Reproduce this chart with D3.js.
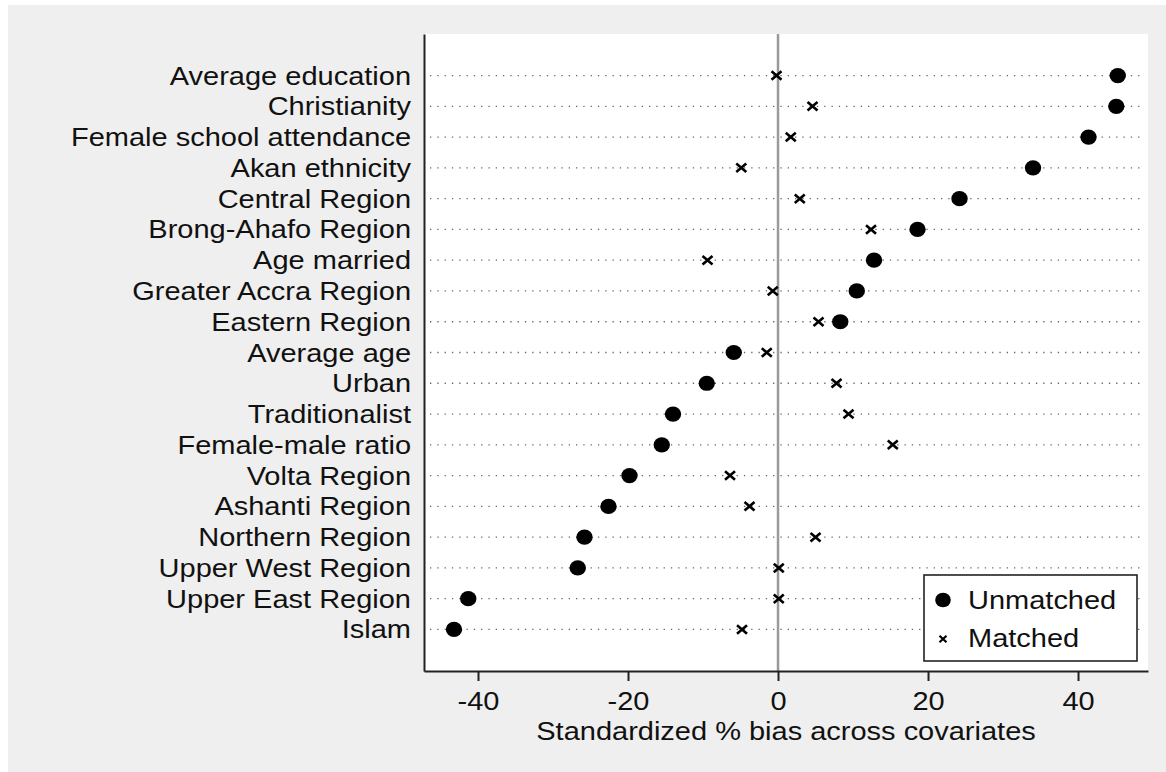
<!DOCTYPE html>
<html>
<head>
<meta charset="utf-8">
<script src="https://cdn.jsdelivr.net/npm/d3@7"></script>
<style>
  html, body { margin: 0; padding: 0; background: #ffffff; }
  svg { display: block; }
  text { font-family: "Liberation Sans", Arial, sans-serif; fill: #111; }
</style>
</head>
<body>
<svg id="chart" width="1166" height="772"></svg>
<script>
const categories = [
  "Average education", "Christianity", "Female school attendance", "Akan ethnicity",
  "Central Region", "Brong-Ahafo Region", "Age married", "Greater Accra Region",
  "Eastern Region", "Average age", "Urban", "Traditionalist", "Female-male ratio",
  "Volta Region", "Ashanti Region", "Northern Region", "Upper West Region",
  "Upper East Region", "Islam"
];
const unmatched = [45.3, 45.1, 41.4, 34.0, 24.2, 18.6, 12.8, 10.5, 8.3, -5.9, -9.5,
  -14.0, -15.5, -19.8, -22.6, -25.8, -26.7, -41.3, -43.2];
const matched = [-0.2, 4.6, 1.7, -4.9, 2.9, 12.4, -9.4, -0.7, 5.4, -1.5, 7.8,
  9.4, 15.3, -6.4, -3.8, 5.0, 0.1, 0.1, -4.8];
const xTicks = [-40, -20, 0, 20, 40];
const xTitle = "Standardized % bias across covariates";
const legendLabels = ["Unmatched", "Matched"];

const svg = d3.select("#chart");
const SX = 1.16; // horizontal stretch of text, as in the exported original

const plot = { left: 424, right: 1148, top: 34, bottom: 671 };

// background
svg.append("rect").attr("x", 8).attr("y", 5).attr("width", 1158).attr("height", 767)
  .attr("fill", "#efefef");
svg.append("rect").attr("x", plot.left).attr("y", plot.top)
  .attr("width", plot.right - plot.left).attr("height", plot.bottom - plot.top)
  .attr("fill", "#ffffff");

const x = d3.scaleLinear().domain([-47.2, 49.33]).range([plot.left, plot.right]);
const y = d3.scalePoint().domain(categories).range([plot.top, plot.bottom]).padding(1.35);

// dotted row lines
svg.append("g").selectAll("line").data(categories).join("line")
  .attr("x1", plot.left + 6).attr("x2", plot.right - 5)
  .attr("y1", d => y(d)).attr("y2", d => y(d))
  .attr("stroke", "#666").attr("stroke-width", 1.3)
  .attr("stroke-dasharray", "1.3,6");

// zero line
svg.append("line").attr("x1", x(0)).attr("x2", x(0))
  .attr("y1", plot.top).attr("y2", plot.bottom)
  .attr("stroke", "#9a9a9a").attr("stroke-width", 2.5);

// x axis
const xAxis = svg.append("g").attr("transform", `translate(0,${plot.bottom})`)
  .call(d3.axisBottom(x).tickValues(xTicks).tickSizeOuter(0).tickSizeInner(10).tickPadding(11)
    .tickFormat(d => d));
xAxis.select(".domain").attr("stroke", "#222").attr("stroke-width", 2);
xAxis.selectAll(".tick line").attr("stroke", "#222").attr("stroke-width", 2);
xAxis.selectAll(".tick text").attr("font-size", 25).attr("fill", "#111")
  .style("font-family", '"Liberation Sans", Arial, sans-serif')
  .attr("transform", `scale(${SX},1)`);

// y axis
const yAxis = svg.append("g").attr("transform", `translate(${plot.left},0)`)
  .call(d3.axisLeft(y).tickSizeOuter(0).tickSizeInner(0).tickPadding(13));
yAxis.select(".domain").attr("stroke", "#222").attr("stroke-width", 2);
yAxis.selectAll(".tick text").attr("font-size", 25).attr("fill", "#111")
  .style("font-family", '"Liberation Sans", Arial, sans-serif')
  .attr("dy", "0.34em")
  .attr("transform", function() { return `scale(${SX},1)`; })
  .attr("x", -13 / SX);

// x title
svg.append("text")
  .attr("transform", `translate(${(plot.left + plot.right) / 2},740) scale(${SX},1)`)
  .attr("text-anchor", "middle").attr("font-size", 25).text(xTitle);

// markers
const crossPath = (cx, cy, w, h) =>
  `M${cx - w / 2},${cy - h / 2}L${cx + w / 2},${cy + h / 2}M${cx - w / 2},${cy + h / 2}L${cx + w / 2},${cy - h / 2}`;

svg.append("g").selectAll("path").data(categories).join("path")
  .attr("d", (d, i) => crossPath(x(matched[i]), y(d), 10, 8.5))
  .attr("stroke", "#000").attr("stroke-width", 2.6).attr("fill", "none");

svg.append("g").selectAll("ellipse").data(categories).join("ellipse")
  .attr("cx", (d, i) => x(unmatched[i])).attr("cy", d => y(d))
  .attr("rx", 8.2).attr("ry", 7.6).attr("fill", "#000");

// legend
const lg = svg.append("g");
lg.append("rect").attr("x", 924).attr("y", 575).attr("width", 213).attr("height", 86)
  .attr("fill", "#fff").attr("stroke", "#222").attr("stroke-width", 1.6);
lg.append("ellipse").attr("cx", 943).attr("cy", 600).attr("rx", 7.8).attr("ry", 7.3).attr("fill", "#000");
lg.append("path").attr("d", crossPath(943, 639, 7, 6.5))
  .attr("stroke", "#000").attr("stroke-width", 2.2).attr("fill", "none");
legendLabels.forEach((t, i) => {
  lg.append("text")
    .attr("transform", `translate(968,${609 + i * 38}) scale(${SX},1)`)
    .attr("font-size", 25).text(t);
});
</script>
</body>
</html>
